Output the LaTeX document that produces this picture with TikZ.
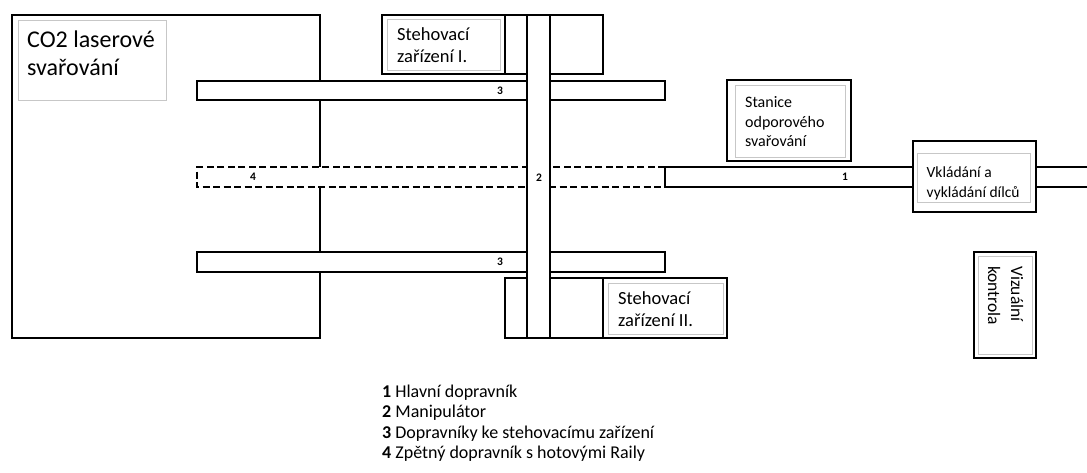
\documentclass[tikz,border=0pt]{standalone}
\usepackage{fontspec}
\setmainfont{Carlito}
\begin{document}
\begin{tikzpicture}[x=1pt,y=-1pt,
  blk/.style={draw=black,line width=2pt,fill=white},
  innerbox/.style={draw=black!22,line width=1pt},
  dashconv/.style={draw=black,line width=2pt,dashed,dash pattern=on 7pt off 3.5pt},
  num/.style={font=\bfseries\fontsize{11.5}{13}\selectfont,inner sep=0pt},
  txt/.style={anchor=north west,align=left,inner sep=0pt}]
\useasboundingbox[fill=white] (0,0) rectangle (1087,472);
% CO2 laser welding cell
\draw[blk] (12,15) rectangle (320,338);
\draw[innerbox] (18,20) rectangle (166,100);
\node[txt,font=\fontsize{24}{27.5}\selectfont] (co2) at (27,31) {CO2 laserové\\svařování};
% Stehovaci zarizeni I
\draw[blk] (382,15) rectangle (603,74);
\draw[line width=2pt] (505,15) -- (505,74);
\draw[innerbox] (387,19) rectangle (500,70);
\node[txt,font=\fontsize{18.5}{22.4}\selectfont] (st1) at (397,27) {Stehovací\\zařízení I.};
% Stehovaci zarizeni II
\draw[blk] (505,278) rectangle (727,338);
\draw[line width=2pt] (603,278) -- (603,338);
\draw[innerbox] (608,283) rectangle (723,334);
\node[txt,font=\fontsize{18.5}{22.4}\selectfont] (st2) at (618,291) {Stehovací\\zařízení II.};
% conveyors 3
\draw[blk] (197,81) rectangle (665,100);
\draw[blk] (197,252) rectangle (665,272);
% return conveyor 4 (dashed)
\fill[white] (197,167) rectangle (665,187);
\draw[dashconv] (665,167) -- (197,167) -- (197,187) -- (665,187);
% main conveyor 1
\draw[blk] (665,167) rectangle (913,187);
\draw[line width=2pt] (1036,167) -- (1087,167);
\draw[line width=2pt] (1036,187) -- (1087,187);
% Stanice odporoveho svarovani
\draw[blk] (727,80) rectangle (851,161);
\draw[innerbox] (735,85) rectangle (845,157);
\node[txt,font=\fontsize{16}{19.5}\selectfont] (stan) at (745,96.5) {Stanice\\odporového\\svařování};
% Vkladani a vykladani dilcu
\draw[blk] (913,141) rectangle (1036,212);
\draw[innerbox] (917,153) rectangle (1030,202);
\node[txt,font=\fontsize{15.5}{19.5}\selectfont] (vkl) at (926.5,167) {Vkládání a\\vykládání dílců};
% Vizualni kontrola
\draw[blk] (974,252) rectangle (1036,358);
\draw[innerbox] (978,256) rectangle (1032,354);
\node[txt,rotate=-90,font=\fontsize{17.5}{23}\selectfont] (viz) at (1023.5,266) {Vizuální\\kontrola};
% manipulator 2
\draw[blk] (527,15) rectangle (550,338);
% numbers
\node[num] (n3a) at (500,91) {3};
\node[num] (n3b) at (500,262) {3};
\node[num] (n2) at (539,178) {2};
\node[num] (n4) at (253,177) {4};
\node[num] (n1) at (845,177) {1};
% legend
\node[txt,font=\fontsize{18}{20.5}\selectfont] (legend) at (382,384.5)
  {\textbf{1} Hlavní dopravník\\
   \textbf{2} Manipulátor\\
   \textbf{3} Dopravníky ke stehovacímu zařízení\\
   \textbf{4} Zpětný dopravník s hotovými Raily};
\end{tikzpicture}
\end{document}
